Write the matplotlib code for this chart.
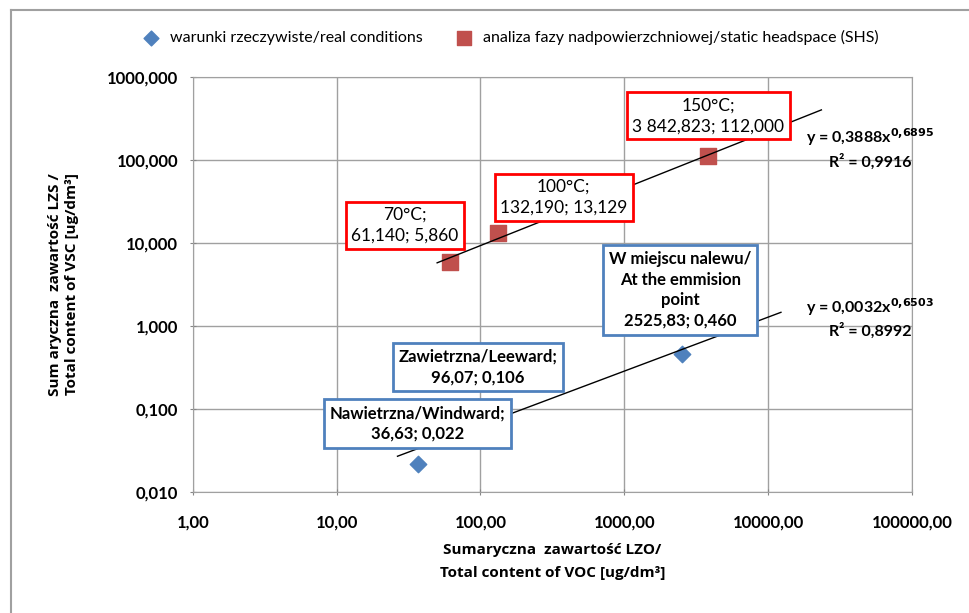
import matplotlib
matplotlib.use("Agg")
import matplotlib.pyplot as plt
import numpy as np
from matplotlib.ticker import FixedLocator, FuncFormatter, NullLocator

plt.rcParams['font.family'] = ['Lato', 'DejaVu Sans']
plt.rcParams['font.weight'] = 'bold'
plt.rcParams['mathtext.default'] = 'bf'

# dane / data
real_x = [36.63, 96.07, 2525.83]
real_y = [0.022, 0.106, 0.460]
real_lbl = ["Nawietrzna/Windward;\n36,63; 0,022",
            "Zawietrzna/Leeward;\n96,07; 0,106",
            "W miejscu nalewu/\nAt the emmision\npoint\n2525,83; 0,460"]

shs_x = [61.140, 132.190, 3842.823]
shs_y = [5.860, 13.129, 112.000]
shs_lbl = ["70°C;\n61,140; 5,860",
           "100°C;\n132,190; 13,129",
           "150°C;\n3 842,823; 112,000"]

# trend lines (power fits from Excel)
shs_fit = (0.3888, 0.6895, 0.9916)
real_fit = (0.0032, 0.6503, 0.8992)
shs_range = [50, 23500]
real_range = [26.5, 12300]

x_ticks = [1, 10, 100, 1000, 10000, 100000]
y_ticks = [0.01, 0.1, 1, 10, 100, 1000]

blue = '#4F81BD'
red = '#C0504D'

fig = plt.figure(figsize=(9.69, 6.13), dpi=100)
ax = fig.add_axes([0.199, 0.1974, 0.742, 0.677])

ax.set_xscale('log')
ax.set_yscale('log')
ax.set_xlim(1, 100000)
ax.set_ylim(0.01, 1000)

ax.scatter(real_x, real_y, marker='D', s=70, color=blue, zorder=3,
           label='warunki rzeczywiste/real conditions')
ax.scatter(shs_x, shs_y, marker='s', s=120, color=red, zorder=3,
           label='analiza fazy nadpowierzchniowej/static headspace (SHS)')

xx = np.logspace(np.log10(shs_range[0]), np.log10(shs_range[1]), 50)
ax.plot(xx, shs_fit[0] * xx ** shs_fit[1], color='black', lw=1, zorder=4)
xx = np.logspace(np.log10(real_range[0]), np.log10(real_range[1]), 50)
ax.plot(xx, real_fit[0] * xx ** real_fit[1], color='black', lw=1, zorder=4)

# labels with boxes
shs_off = [(-45, 37), (66, 36), (0, 40)]
real_off = [(0, 40), (0, 40), (-2, 64)]
for x, y, t, o in zip(shs_x, shs_y, shs_lbl, shs_off):
    ax.annotate(t, (x, y), xytext=o, textcoords='offset pixels', ha='center',
                va='center', fontsize=12.5, fontweight='normal', linespacing=1.35, zorder=5,
                bbox=dict(boxstyle='square,pad=0.3', fc='white', ec='#FF0000', lw=2))
for x, y, t, o in zip(real_x, real_y, real_lbl, real_off):
    ax.annotate(t, (x, y), xytext=o, textcoords='offset pixels', ha='center',
                va='center', fontsize=12, fontweight='bold', linespacing=1.35, zorder=5,
                bbox=dict(boxstyle='square,pad=0.35', fc='white', ec=blue, lw=2))


def eq_text(a, b, r2):
    s = 'y = ' + ('%.4f' % a).replace('.', ',') + 'x$^{' + ('%.4f' % b).replace('.', '{,}') + '}$'
    return s + '\nR² = ' + ('%.4f' % r2).replace('.', ',')


fig.text(0.898, 0.758, eq_text(*shs_fit), ha='center', va='center', fontsize=11.5,
         fontweight='bold', linespacing=1.4)
fig.text(0.898, 0.482, eq_text(*real_fit), ha='center', va='center', fontsize=11.5,
         fontweight='bold', linespacing=1.4)

ax.xaxis.set_major_locator(FixedLocator(x_ticks))
ax.yaxis.set_major_locator(FixedLocator(y_ticks))
ax.xaxis.set_minor_locator(NullLocator())
ax.yaxis.set_minor_locator(NullLocator())
ax.xaxis.set_major_formatter(FuncFormatter(lambda v, p: ('%.2f' % v).replace('.', ',')))
ax.yaxis.set_major_formatter(FuncFormatter(lambda v, p: ('%.3f' % v).replace('.', ',')))
ax.tick_params(axis='both', labelsize=12, color='#868686', length=5, direction='inout')
ax.tick_params(axis='x', pad=14)
ax.tick_params(axis='y', pad=8)

ax.grid(True, color='#A0A0A0', lw=1)
for s in ax.spines.values():
    s.set_color('#A0A0A0')

lab_font = ['Open Sans', 'DejaVu Sans']
ax.set_xlabel('Sumaryczna  zawartość LZO/\nTotal content of VOC [ug/dm³]', family=lab_font,
              fontsize=11, fontweight='bold', labelpad=9, linespacing=1.8)
ax.set_ylabel('Sum aryczna  zawartość LZS /\nTotal content of VSC [ug/dm³]', family=lab_font,
              fontsize=11, fontweight='bold', labelpad=20, linespacing=1.25)

fig.legend(loc='upper center', bbox_to_anchor=(0.523, 0.975), ncol=2, frameon=False,
           prop={'size': 11.5, 'weight': 'normal'}, handletextpad=0.2,
           columnspacing=1.6, markerscale=0.9)

# chart area border
fig.add_artist(plt.Line2D([11 / 969, 1.0], [1 - 10 / 613, 1 - 10 / 613],
                          color='#A0A0A0', lw=1.5))
fig.add_artist(plt.Line2D([11 / 969, 11 / 969], [0, 1 - 10 / 613],
                          color='#A0A0A0', lw=1.5))

fig.savefig('out.png', dpi=100)
